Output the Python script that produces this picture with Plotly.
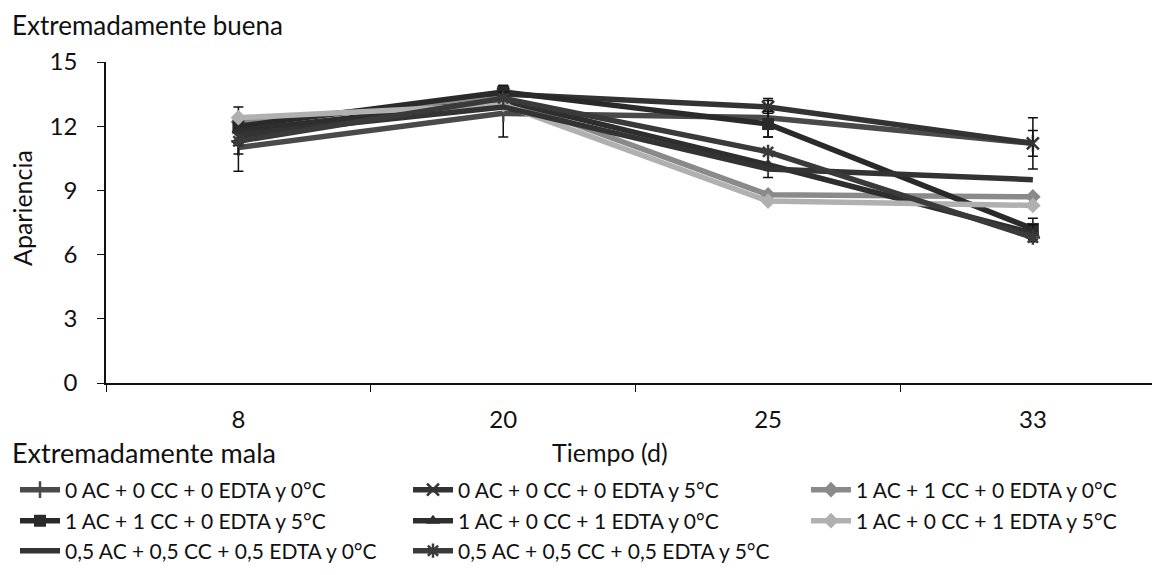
import plotly.graph_objects as go

days = ["8", "20", "25", "33"]

names = [
    "0 AC + 0 CC + 0 EDTA y 0°C",
    "0 AC + 0 CC + 0 EDTA y 5°C",
    "1 AC + 1 CC + 0 EDTA y 0°C",
    "1 AC + 1 CC + 0 EDTA y 5°C",
    "1 AC + 0 CC + 1 EDTA y 0°C",
    "1 AC + 0 CC + 1 EDTA y 5°C",
    "0,5 AC + 0,5 CC + 0,5 EDTA y 0°C",
    "0,5 AC + 0,5 CC + 0,5 EDTA y 5°C",
]

s1 = [11.0, 12.6, 12.4, 11.2]
s2 = [11.5, 13.5, 12.9, 11.2]
s3 = [12.2, 13.3, 8.8, 8.7]
s4 = [12.0, 13.6, 12.1, 7.2]
s5 = [11.8, 13.2, 10.2, 7.0]
s6 = [12.4, 13.0, 8.5, 8.3]
s7 = [11.6, 12.9, 10.0, 9.5]
s8 = [11.3, 13.3, 10.8, 6.8]

e1 = [1.1, 1.1, 0.9, 1.2]
e2 = [0.8, 0.4, 0.3, 0.6]
e4 = [0.9, 0.3, 0.6, 0.5]
e5 = [0.6, 0.4, 0.6, 0.4]

series = [s1, s2, s3, s4, s5, s6, s7, s8]
errors = [e1, e2, None, e4, e5, None, None, None]
colors = ["#4a4a4a", "#333333", "#8a8a8a", "#2a2a2a", "#2e2e2e", "#b0b0b0", "#333333", "#3a3a3a"]
symbols = ["line-ns-open", "x-thin-open", "diamond", "square", "triangle-up", "diamond", None, "asterisk-open"]

# the page has an 8px body margin; work in screen pixels and convert
OFF = 8
W, H = 1160 - OFF, 575 - OFF
plot_left, plot_top, plot_bottom = 106, 62, 383   # screen px
L = plot_left - OFF
T = plot_top - OFF
B = H - (plot_bottom - OFF)
R = 0
pw, ph = W - L - R, H - T - B

def px_x(p):  # screen px -> paper
    return (p - OFF - L) / pw

def px_y(p):
    return (H - B - (p - OFF)) / ph

font = "Lato, 'Open Sans', sans-serif"

# legend slots (screen px): column left x, row center y
col_x = [15, 408, 806]
row_y = [490, 521, 551]
legend_keys = ["legend"] + [f"legend{i}" for i in range(2, 9)]

fig = go.Figure()
for i, (name, ys, err, col, sym) in enumerate(zip(names, series, errors, colors, symbols)):
    kw = {}
    if sym is None:
        mode = "lines"
    else:
        mode = "lines+markers"
        open_sym = sym.endswith("open")
        kw["marker"] = dict(symbol=sym, size=12, color=col,
                            line=dict(color=col, width=2.5 if open_sym else 0))
    if err is not None:
        kw["error_y"] = dict(type="data", array=err, visible=True, color="#111111",
                             thickness=1.5, width=5)
    fig.add_trace(go.Scatter(x=days, y=ys, name=name, mode=mode,
                             line=dict(color=col, width=5.5),
                             legend=legend_keys[i], **kw))

legends = {}
for i, key in enumerate(legend_keys):
    r, c = divmod(i, 3)
    legends[key] = dict(x=px_x(col_x[c]), xanchor="left",
                        y=px_y(row_y[r]), yanchor="middle",
                        orientation="h", bgcolor="rgba(0,0,0,0)",
                        font=dict(family=font, size=21, color="#111111"),
                        itemwidth=40)

fig.update_layout(
    width=W, height=H,
    margin=dict(l=L, r=R, t=T, b=B, autoexpand=False),
    plot_bgcolor="white", paper_bgcolor="white",
    font=dict(family=font, size=24, color="#111111"),
    showlegend=True,
    xaxis=dict(type="category", range=[-0.5, 3.48], showgrid=False,
               showline=True, linecolor="#111111", linewidth=1.5,
               ticks="outside", tickson="boundaries", ticklen=7, tickcolor="#111111",
               tickfont=dict(size=24), ticklabelstandoff=14),
    yaxis=dict(range=[0, 15], tickvals=[0, 3, 6, 9, 12, 15], showgrid=False,
               zeroline=False, showline=True, linecolor="#111111", linewidth=1.5,
               ticks="outside", ticklen=7, tickcolor="#111111",
               tickfont=dict(size=24), ticklabelstandoff=15),
    annotations=[
        dict(text="Extremadamente buena", x=px_x(10), y=px_y(25), xref="paper", yref="paper",
             showarrow=False, font=dict(size=26), xanchor="left", yanchor="middle"),
        dict(text="Extremadamente mala", x=px_x(10), y=px_y(452), xref="paper", yref="paper",
             showarrow=False, font=dict(size=27), xanchor="left", yanchor="middle"),
        dict(text="Tiempo (d)", x=px_x(610), y=px_y(452), xref="paper", yref="paper",
             showarrow=False, font=dict(size=25), xanchor="center", yanchor="middle"),
        dict(text="Apariencia", x=px_x(22), y=px_y(208), xref="paper", yref="paper", textangle=-90,
             showarrow=False, font=dict(size=25), xanchor="center", yanchor="middle"),
    ],
    **legends,
)

fig.write_html("out.html")
